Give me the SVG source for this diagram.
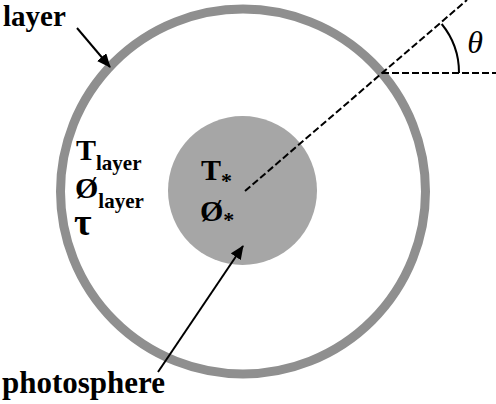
<svg xmlns="http://www.w3.org/2000/svg" width="496" height="404" viewBox="0 0 496 404">
<defs>
<marker id="ah" markerWidth="14" markerHeight="12" refX="13" refY="6" orient="auto" markerUnits="userSpaceOnUse">
<path d="M0,0 L14,6 L0,12 Z" fill="#000"/>
</marker>
<style>
.t{font-family:"Liberation Serif","Times New Roman",serif;font-weight:bold;fill:#000}
.d{stroke:#000;stroke-width:2;stroke-dasharray:7,3;fill:none}
</style>
</defs>
<rect width="496" height="404" fill="#fff"/>
<g id="layer-shell"><circle cx="243" cy="191.5" r="182.5" fill="none" stroke="#8f8f8f" stroke-width="9"/></g>
<g id="photosphere-disk"><circle cx="242.5" cy="190.5" r="74.5" fill="#a6a6a6"/></g>
<g id="connectors">
<line class="d" x1="245" y1="191" x2="467" y2="0"/>
<line class="d" x1="382" y1="73" x2="496" y2="73"/>
<path d="M441.7,24 A77,77 0 0 1 459,73" fill="none" stroke="#000" stroke-width="2"/>
<line x1="77" y1="28" x2="110" y2="67" stroke="#000" stroke-width="2" marker-end="url(#ah)"/>
<line x1="158" y1="372" x2="243" y2="246" stroke="#000" stroke-width="2" marker-end="url(#ah)"/>
</g>
<g id="label-layer"><text class="t" x="3" y="26" font-size="29">layer</text></g>
<g id="label-theta"><text x="475" y="53" font-size="32" font-style="italic" text-anchor="middle" font-family="'Liberation Serif','Times New Roman',serif">θ</text></g>
<g id="label-layer-params">
<text class="t" x="76" y="160" font-size="30">T<tspan font-size="21" dy="10">layer</tspan></text>
<text class="t" x="75" y="198" font-size="30">Ø<tspan font-size="21" dy="10">layer</tspan></text>
<text class="t" x="74" y="235" font-size="38">τ</text>
</g>
<g id="label-star-params">
<text class="t" x="201" y="180" font-size="30">T<tspan font-size="22" dy="8">*</tspan></text>
<text class="t" x="200" y="221" font-size="30">Ø<tspan font-size="22" dy="6">*</tspan></text>
</g>
<g id="label-photosphere"><text class="t" x="2" y="393" font-size="31">photosphere</text></g>
</svg>
